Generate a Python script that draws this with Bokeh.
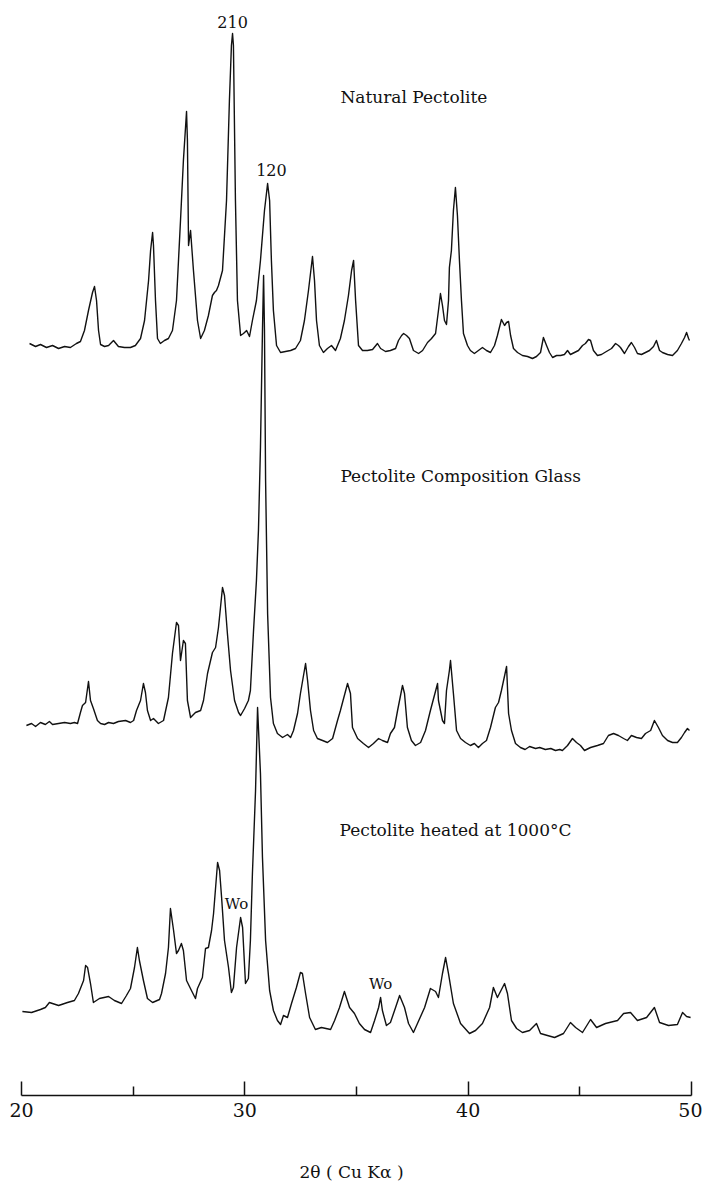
from bokeh.plotting import figure
from bokeh.models import ColumnDataSource, Range1d, FixedTicker, Label
from bokeh.transform import dodge
from bokeh.embed import file_html
from bokeh.resources import INLINE

# ---------------- data (2theta in degrees, intensity in arbitrary units) ----------------
natural_theta = [20.36, 20.63, 20.85, 21.12, 21.39, 21.66, 21.93, 22.19, 22.46, 22.64, 22.82, 23.00, 23.18, 23.27,
                 23.36, 23.45, 23.54, 23.72, 23.90, 24.12, 24.34, 24.61, 24.88, 25.10, 25.33, 25.51, 25.69, 25.78,
                 25.87, 25.91, 26.00, 26.09, 26.22, 26.40, 26.58, 26.76, 26.94, 27.12, 27.25, 27.39, 27.43, 27.48,
                 27.57, 27.70, 27.88, 28.02, 28.19, 28.37, 28.55, 28.64, 28.73, 28.82, 29.00, 29.18, 29.31, 29.40,
                 29.45, 29.49, 29.58, 29.67, 29.81, 29.94, 30.08, 30.21, 30.34, 30.52, 30.70, 30.88, 31.02, 31.11,
                 31.19, 31.28, 31.42, 31.60, 31.82, 32.05, 32.27, 32.49, 32.67, 32.85, 33.03, 33.12, 33.21, 33.34,
                 33.52, 33.70, 33.88, 34.06, 34.28, 34.46, 34.64, 34.78, 34.87, 34.96, 35.09, 35.27, 35.49, 35.72,
                 35.94, 36.08, 36.30, 36.52, 36.75, 36.88, 37.02, 37.11, 37.24, 37.37, 37.55, 37.78, 37.96, 38.18,
                 38.36, 38.54, 38.67, 38.76, 38.85, 38.94, 39.03, 39.12, 39.16, 39.25, 39.34, 39.43, 39.52, 39.61,
                 39.70, 39.79, 39.97, 40.10, 40.28, 40.46, 40.64, 40.82, 41.00, 41.18, 41.31, 41.49, 41.63, 41.72,
                 41.81, 41.90, 42.03, 42.21, 42.43, 42.66, 42.88, 43.06, 43.24, 43.37, 43.51, 43.64, 43.78, 43.96,
                 44.14, 44.31, 44.45, 44.58, 44.76, 44.94, 45.12, 45.25, 45.39, 45.48, 45.61, 45.79, 45.97, 46.19,
                 46.42, 46.60, 46.73, 46.82, 47.00, 47.18, 47.31, 47.45, 47.58, 47.76, 47.94, 48.12, 48.30, 48.43,
                 48.57, 48.70, 48.93, 49.15, 49.37, 49.55, 49.69, 49.78, 49.87, 49.91]
natural_intensity = [17, 14, 16, 13, 15, 12, 14, 13, 17, 19, 30, 50, 68, 74,
                     60, 30, 16, 14, 15, 20, 14, 13, 13, 15, 22, 40, 80, 110,
                     128, 115, 60, 22, 17, 20, 22, 30, 60, 140, 200, 249, 220, 115,
                     130, 90, 40, 22, 30, 45, 65, 68, 70, 75, 90, 160, 260, 315,
                     327, 315, 160, 60, 25, 27, 30, 24, 40, 60, 100, 150, 177, 160,
                     100, 50, 15, 8, 9, 10, 12, 20, 40, 70, 104, 80, 40, 15,
                     8, 12, 15, 10, 22, 40, 65, 90, 100, 60, 15, 10, 10, 11,
                     17, 12, 9, 10, 12, 20, 25, 27, 25, 22, 10, 7, 10, 18,
                     22, 27, 50, 67, 55, 40, 36, 60, 93, 110, 150, 173, 145, 100,
                     60, 27, 15, 10, 7, 10, 13, 10, 8, 15, 25, 41, 35, 38,
                     39, 25, 12, 8, 5, 4, 2, 4, 8, 23, 15, 8, 3, 5,
                     5, 6, 10, 6, 8, 10, 15, 17, 21, 20, 10, 5, 6, 9,
                     12, 17, 15, 13, 7, 14, 18, 13, 7, 6, 8, 10, 14, 20,
                     10, 8, 6, 5, 10, 17, 23, 28, 22, 20]

glass_theta = [20.22, 20.45, 20.63, 20.85, 21.07, 21.25, 21.39, 21.66, 21.93, 22.19, 22.37, 22.51, 22.64, 22.73,
               22.87, 23.00, 23.09, 23.22, 23.40, 23.54, 23.72, 23.90, 24.12, 24.34, 24.66, 24.88, 25.02, 25.15,
               25.33, 25.46, 25.55, 25.64, 25.78, 25.91, 26.13, 26.36, 26.58, 26.76, 26.94, 27.03, 27.12, 27.25,
               27.34, 27.43, 27.57, 27.79, 28.02, 28.15, 28.33, 28.55, 28.69, 28.82, 29.00, 29.09, 29.22, 29.36,
               29.54, 29.72, 29.81, 29.99, 30.16, 30.25, 30.39, 30.52, 30.61, 30.70, 30.79, 30.84, 30.88, 30.93,
               31.02, 31.15, 31.28, 31.46, 31.69, 31.91, 32.05, 32.18, 32.36, 32.49, 32.72, 32.81, 32.94, 33.08,
               33.25, 33.48, 33.70, 33.93, 34.15, 34.28, 34.60, 34.73, 34.82, 35.05, 35.31, 35.54, 35.76, 35.99,
               36.16, 36.39, 36.52, 36.70, 36.84, 37.06, 37.15, 37.28, 37.46, 37.64, 37.87, 38.09, 38.31, 38.63,
               38.67, 38.85, 38.94, 39.03, 39.16, 39.21, 39.34, 39.48, 39.66, 39.88, 40.10, 40.28, 40.46, 40.64,
               40.82, 41.00, 41.22, 41.36, 41.49, 41.72, 41.81, 41.94, 42.12, 42.34, 42.55, 42.75, 43.02, 43.20,
               43.46, 43.70, 43.91, 44.10, 44.22, 44.45, 44.67, 44.85, 45.03, 45.21, 45.48, 45.79, 46.06, 46.28,
               46.51, 46.73, 46.96, 47.13, 47.31, 47.54, 47.76, 47.94, 48.17, 48.34, 48.52, 48.70, 48.93, 49.15,
               49.37, 49.55, 49.69, 49.82, 49.91]
glass_intensity = [35, 37, 34, 38, 36, 39, 36, 37, 38, 37, 38, 37, 48, 55,
                   58, 79, 60, 52, 40, 37, 36, 38, 37, 39, 40, 38, 40, 50,
                   60, 77, 68, 50, 40, 42, 37, 40, 63, 107, 138, 135, 100, 120,
                   117, 60, 43, 48, 50, 60, 87, 108, 113, 133, 173, 165, 127, 90,
                   60, 48, 45, 52, 60, 70, 130, 180, 230, 313, 430, 485, 430, 280,
                   147, 63, 37, 27, 23, 26, 23, 30, 47, 67, 97, 80, 50, 30,
                   22, 20, 18, 22, 40, 50, 77, 67, 33, 22, 17, 13, 17, 22,
                   20, 18, 27, 33, 50, 75, 67, 33, 20, 15, 18, 30, 50, 77,
                   60, 40, 37, 70, 90, 100, 67, 30, 22, 18, 15, 17, 13, 17,
                   20, 33, 53, 58, 70, 94, 47, 30, 17, 13, 11, 14, 12, 13,
                   11, 12, 10, 11, 10, 15, 22, 18, 15, 10, 13, 15, 17, 25,
                   27, 25, 22, 20, 25, 23, 22, 27, 30, 40, 33, 25, 20, 18,
                   18, 23, 28, 32, 30]

heated_theta = [20.04, 20.45, 20.85, 21.07, 21.25, 21.66, 22.06, 22.37, 22.55, 22.78, 22.87, 22.96, 23.09, 23.22,
                23.49, 23.90, 24.16, 24.48, 24.70, 24.88, 25.06, 25.19, 25.28, 25.46, 25.64, 25.87, 26.18, 26.27,
                26.45, 26.58, 26.67, 26.81, 26.94, 27.03, 27.16, 27.25, 27.39, 27.61, 27.79, 27.88, 28.10, 28.24,
                28.37, 28.51, 28.60, 28.78, 28.87, 28.96, 29.09, 29.27, 29.40, 29.49, 29.63, 29.81, 29.90, 30.03,
                30.16, 30.25, 30.34, 30.48, 30.57, 30.70, 30.79, 30.93, 31.11, 31.28, 31.46, 31.60, 31.73, 31.91,
                32.09, 32.31, 32.49, 32.58, 32.72, 32.90, 33.16, 33.43, 33.84, 34.02, 34.24, 34.46, 34.69, 34.91,
                35.13, 35.36, 35.63, 35.81, 35.99, 36.08, 36.16, 36.34, 36.52, 36.75, 36.93, 37.15, 37.33, 37.55,
                37.73, 38.05, 38.31, 38.54, 38.67, 38.85, 38.99, 39.12, 39.34, 39.66, 40.06, 40.33, 40.64, 40.96,
                41.13, 41.31, 41.63, 41.76, 41.94, 42.17, 42.43, 42.75, 43.06, 43.24, 43.55, 43.87, 44.27, 44.58,
                44.81, 45.12, 45.48, 45.75, 46.15, 46.69, 46.96, 47.27, 47.58, 47.99, 48.34, 48.57, 48.97, 49.37,
                49.60, 49.78, 49.96]
heated_intensity = [29, 28, 31, 33, 38, 35, 38, 40, 47, 60, 75, 73, 57, 38,
                    42, 44, 40, 37, 45, 52, 73, 93, 80, 60, 42, 38, 41, 47,
                    67, 93, 132, 110, 87, 90, 97, 90, 60, 50, 42, 52, 63, 92,
                    93, 110, 127, 178, 170, 143, 100, 73, 48, 53, 93, 123, 113, 57,
                    62, 100, 167, 250, 333, 267, 183, 100, 50, 30, 20, 16, 25, 23,
                    37, 53, 68, 67, 47, 23, 11, 13, 11, 20, 33, 49, 33, 27,
                    17, 11, 8, 20, 33, 43, 30, 15, 18, 33, 45, 33, 17, 8,
                    17, 33, 52, 49, 43, 67, 83, 67, 37, 17, 7, 10, 17, 33,
                    53, 43, 57, 47, 20, 12, 8, 10, 17, 7, 5, 3, 7, 18,
                    13, 8, 21, 13, 17, 20, 27, 28, 20, 23, 33, 18, 15, 16,
                    28, 24, 23]

tick_values = [20, 30, 40, 50]
minor_tick_values = [25, 35, 45]

# vertical stacking of the three patterns (layout only)
OFFSET_NATURAL = 735
OFFSET_GLASS = 335
OFFSET_HEATED = 55

SERIF = "DejaVu Serif"
INK = "#111111"

p = figure(width=702, height=1189,
           x_range=Range1d(19.060, 50.493), y_range=Range1d(0, 1095),
           output_backend="svg", toolbar_location=None, y_axis_type=None,
           min_border_left=0, min_border_right=0, min_border_top=0, min_border_bottom=94)
p.outline_line_color = None
p.xgrid.visible = False
p.ygrid.visible = False
p.background_fill_color = "white"
p.border_fill_color = "white"

for th, inten, off in [(natural_theta, natural_intensity, OFFSET_NATURAL),
                       (glass_theta, glass_intensity, OFFSET_GLASS),
                       (heated_theta, heated_intensity, OFFSET_HEATED)]:
    src = ColumnDataSource(dict(theta=th, intensity=inten))
    p.line(x="theta", y=dodge("intensity", off), source=src,
           line_color=INK, line_width=1.4, line_join="round")

ax = p.xaxis[0]
ax.ticker = FixedTicker(ticks=tick_values, minor_ticks=minor_tick_values)
ax.bounds = (20, 50)
ax.axis_line_color = INK
ax.axis_line_width = 1.5
ax.major_tick_in = 14
ax.major_tick_out = 0
ax.minor_tick_in = 9
ax.minor_tick_out = 0
ax.major_tick_line_color = INK
ax.major_tick_line_width = 1.5
ax.minor_tick_line_color = INK
ax.minor_tick_line_width = 1.5
ax.major_label_text_font = SERIF
ax.major_label_text_font_size = "19px"
ax.major_label_text_color = INK
ax.major_label_standoff = 7
ax.axis_label = "2θ ( Cu Kα )"
ax.axis_label_text_font = SERIF
ax.axis_label_text_font_size = "17px"
ax.axis_label_text_font_style = "normal"
ax.axis_label_text_color = INK
ax.axis_label_standoff = 42


def add_label(x, y, text, size, align="left"):
    p.add_layout(Label(x=x, y=y, text=text, text_font=SERIF, text_font_size=size,
                       text_align=align, text_baseline="middle", text_color=INK))


add_label(29.45, 1074, "210", "16px", "center")
add_label(31.19, 926, "120", "16px", "center")
add_label(34.28, 999, "Natural Pectolite", "17px")
add_label(34.28, 620, "Pectolite Composition Glass", "17px")
add_label(34.24, 266, "Pectolite heated at 1000°C", "17px")
add_label(29.63, 192, "Wo", "15px", "center")
add_label(36.08, 112, "Wo", "15px", "center")

open("out.html", "w").write(file_html(p, INLINE))
